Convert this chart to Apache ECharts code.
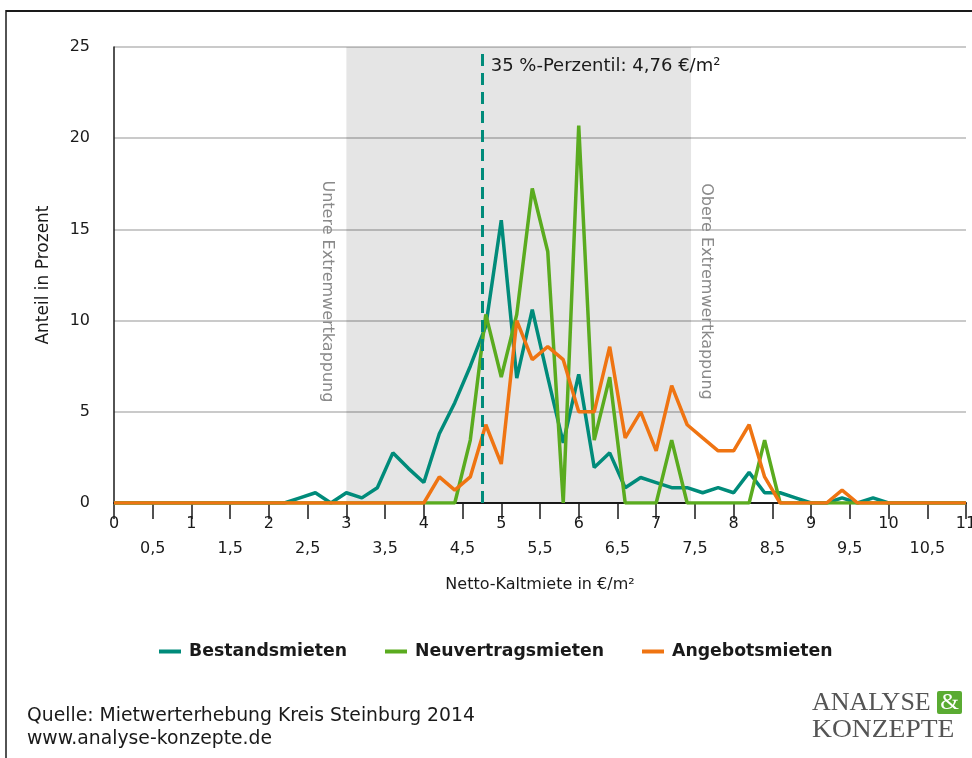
<!DOCTYPE html>
<html>
<head>
<meta charset="utf-8">
<script src="https://cdn.jsdelivr.net/npm/echarts@6/dist/echarts.min.js"></script>
<style>
html,body{margin:0;padding:0;background:#fff;}
#chart{width:972px;height:758px;}
</style>
</head>
<body>
<div id="chart"></div>
<script>
// ---- data ----
const priceSteps = [0,0.2,0.4,0.6,0.8,1.0,1.2,1.4,1.6,1.8,2.0,2.2,2.4,2.6,2.8,3.0,3.2,3.4,3.6,3.8,4.0,4.2,4.4,4.6,4.8,5.0,5.2,5.4,5.6,5.8,6.0,6.2,6.4,6.6,6.8,7.0,7.2,7.4,7.6,7.8,8.0,8.2,8.4,8.6,8.8,9.0,9.2,9.4,9.6,9.8,10.0,10.2,10.4,10.6,10.8,11.0];
const bestandsmieten = [0,0,0,0,0,0,0,0,0,0,0,0,0.28,0.56,0,0.56,0.28,0.84,2.75,1.9,1.12,3.8,5.5,7.5,9.7,15.5,6.85,10.6,6.9,3.3,7.05,1.95,2.75,0.84,1.4,1.12,0.84,0.84,0.56,0.84,0.56,1.68,0.56,0.56,0.28,0,0,0.28,0,0.28,0,0,0,0,0,0];
const neuvertragsmieten = [0,0,0,0,0,0,0,0,0,0,0,0,0,0,0,0,0,0,0,0,0,0,0,3.45,10.34,6.9,10.34,17.24,13.79,0,20.69,3.45,6.9,0,0,0,3.45,0,0,0,0,0,3.45,0,0,0,0,0,0,0,0,0,0,0,0,0];
const angebotsmieten = [0,0,0,0,0,0,0,0,0,0,0,0,0,0,0,0,0,0,0,0,0,1.43,0.71,1.43,4.29,2.14,10.0,7.86,8.57,7.86,5.0,5.0,8.57,3.57,5.0,2.86,6.43,4.29,3.57,2.86,2.86,4.29,1.43,0,0,0,0,0.71,0,0,0,0,0,0,0,0];
const seriesNames = ['Bestandsmieten','Neuvertragsmieten','Angebotsmieten'];
const percentile35 = 4.76;
const extremeLower = 3;
const extremeUpper = 7.45;
const xMin = 0, xMax = 11, xStep = 0.5;
const yMin = 0, yMax = 25, yStep = 5;

const colors = ['#008b7a','#5aab1f','#ef7412'];
const FONT = 'DejaVu Sans';

function pairs(vals){ return priceSteps.map((x,i)=>[x, vals[i]]); }

const chart = echarts.init(document.getElementById('chart'), null, {renderer:'canvas'});

const option = {
  animation:false,
  backgroundColor:'#ffffff',
  textStyle:{fontFamily:FONT},
  grid:{left:114,right:6,top:47,bottom:255,containLabel:false,outerBoundsMode:'none'},
  legend:{
    data:seriesNames,
    left:154, top:638,
    icon:'rect', itemWidth:22, itemHeight:4, itemGap:38,
    textStyle:{fontFamily:FONT,fontSize:17.3,fontWeight:'bold',color:'#1a1a1a',padding:[0,0,0,3]}
  },
  xAxis:{
    type:'value', min:xMin, max:xMax, interval:xStep,
    name:'Netto-Kaltmiete in €/m²', nameLocation:'middle', nameGap:74,
    nameTextStyle:{fontFamily:FONT,fontSize:16,color:'#1a1a1a'},
    axisLine:{lineStyle:{color:'#1a1a1a',width:2}},
    axisTick:{length:16,lineStyle:{color:'#1a1a1a',width:1.5}},
    axisLabel:{
      fontFamily:FONT,fontSize:16,color:'#1a1a1a',lineHeight:25,margin:8,
      showMinLabel:true,showMaxLabel:true,hideOverlap:false,
      formatter:function(v){
        const r = Math.round(v*10)/10;
        const s = String(r).replace('.',',');
        return Number.isInteger(r) ? s : '\n'+s;
      }
    },
    splitLine:{show:false}
  },
  yAxis:{
    type:'value', min:yMin, max:yMax, interval:yStep,
    name:'Anteil in Prozent', nameLocation:'middle', nameGap:62, nameRotate:90,
    nameTextStyle:{fontFamily:FONT,fontSize:17,color:'#1a1a1a'},
    axisLine:{show:true,lineStyle:{color:'#1a1a1a',width:1.5}},
    axisTick:{show:false},
    axisLabel:{fontFamily:FONT,fontSize:16,color:'#1a1a1a',margin:24},
    splitLine:{lineStyle:{color:'#cacaca',width:2}}
  },
  series:[
    {
      name:'_band', type:'line', data:[], z:1, silent:true,
      markArea:{silent:true,itemStyle:{color:'rgba(0,0,0,0.1)'},data:[[{xAxis:extremeLower},{xAxis:extremeUpper}]]},
      markLine:{silent:true,symbol:'none',label:{show:false},
        lineStyle:{color:colors[0],type:[12,7],width:3},
        data:[{xAxis:percentile35}]}
    },
    {name:seriesNames[0],type:'line',data:pairs(bestandsmieten),z:3,showSymbol:false,symbol:'none',
      lineStyle:{color:colors[0],width:3.5},itemStyle:{color:colors[0]}},
    {name:seriesNames[1],type:'line',data:pairs(neuvertragsmieten),z:3,showSymbol:false,symbol:'none',
      lineStyle:{color:colors[1],width:3.5},itemStyle:{color:colors[1]}},
    {name:seriesNames[2],type:'line',data:pairs(angebotsmieten),z:3,showSymbol:false,symbol:'none',
      lineStyle:{color:colors[2],width:3.5},itemStyle:{color:colors[2]}}
  ]
};
chart.setOption(option);

// annotations placed via the axes
const pTop = chart.convertToPixel({gridIndex:0},[percentile35, yMax]);
const pLow = chart.convertToPixel({gridIndex:0},[extremeLower, 11.6]);
const pUp = chart.convertToPixel({gridIndex:0},[extremeUpper, 11.6]);

chart.setOption({
  graphic:[
    // frame
    {type:'line',shape:{x1:6,y1:11,x2:972,y2:11},style:{stroke:'#1a1a1a',lineWidth:2}},
    {type:'line',shape:{x1:6,y1:10,x2:6,y2:758},style:{stroke:'#1a1a1a',lineWidth:1.5}},
    // percentile label
    {type:'text',x:pTop[0]+8,y:pTop[1]+19,z:10,
      style:{text:'35 %-Perzentil: 4,76 €/m²',fill:'#1a1a1a',font:'18px "DejaVu Sans"',align:'left',verticalAlign:'middle'}},
    // extreme labels
    {type:'text',x:pLow[0]-19,y:pLow[1],rotation:-Math.PI/2,z:10,
      style:{text:'Untere Extremwertkappung',fill:'#8a8a8a',font:'16px "DejaVu Sans"',align:'center',verticalAlign:'middle'}},
    {type:'text',x:pUp[0]+15,y:pUp[1],rotation:-Math.PI/2,z:10,
      style:{text:'Obere Extremwertkappung',fill:'#8a8a8a',font:'16px "DejaVu Sans"',align:'center',verticalAlign:'middle'}},
    // footer
    {type:'text',x:27,y:716,style:{text:'Quelle: Mietwerterhebung Kreis Steinburg 2014',fill:'#1a1a1a',font:'18.8px "DejaVu Sans"',align:'left',verticalAlign:'middle'}},
    {type:'text',x:27,y:739,style:{text:'www.analyse-konzepte.de',fill:'#1a1a1a',font:'18.8px "DejaVu Sans"',align:'left',verticalAlign:'middle'}},
    // logo
    {type:'text',x:812,y:703,style:{text:'ANALYSE',fill:'#555555',font:'26px "Liberation Serif"',align:'left',verticalAlign:'middle'}},
    {type:'rect',shape:{x:937,y:691,width:25,height:23,r:2},style:{fill:'#5aab32'}},
    {type:'text',x:949.5,y:703,style:{text:'&',fill:'#ffffff',font:'24px "Liberation Serif"',align:'center',verticalAlign:'middle'}},
    {type:'text',x:812,y:730,scaleX:1.06,style:{text:'KONZEPTE',fill:'#555555',font:'26px "Liberation Serif"',align:'left',verticalAlign:'middle'}}
  ]
});
</script>
</body>
</html>
